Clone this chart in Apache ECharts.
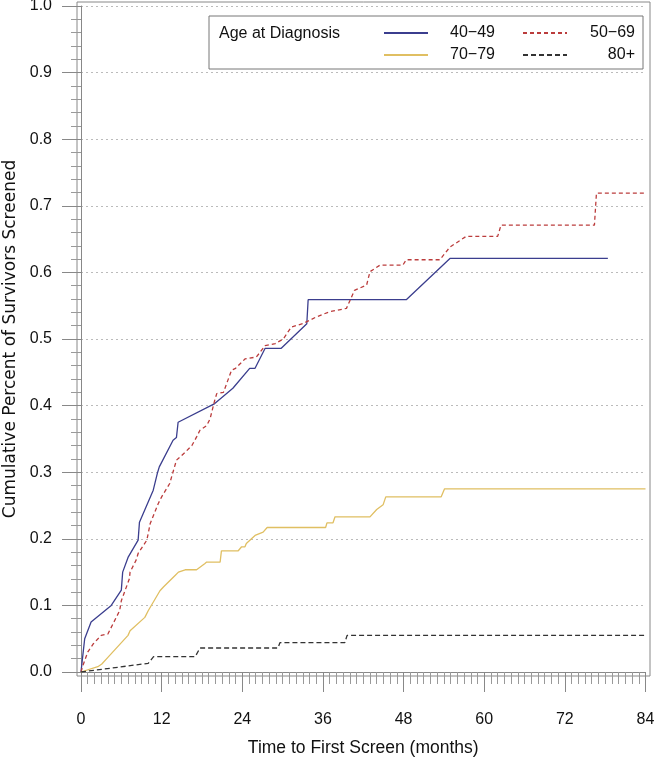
<!DOCTYPE html>
<html>
<head>
<meta charset="utf-8">
<script src="https://cdn.jsdelivr.net/npm/echarts@6/dist/echarts.min.js"></script>
<style>html,body{margin:0;padding:0;background:#fff;}#c{width:655px;height:761px;}</style>
</head>
<body>
<div id="c"></div>
<script>
const FONT = 'Liberation Sans, Arial, Helvetica, sans-serif';

const xTicks = [0, 12, 24, 36, 48, 60, 72, 84];
const yTicks = [0.0, 0.1, 0.2, 0.3, 0.4, 0.5, 0.6, 0.7, 0.8, 0.9, 1.0];
const groupNames = ['40−49', '50−69', '70−79', '80+'];

const age40_49 = [[0,0],[0.35,0.032],[0.55,0.05],[1.5,0.075],[4.5,0.1],[6.0,0.123],[6.2,0.15],[7.0,0.172],[8.5,0.198],[8.7,0.225],[10.75,0.273],[11.35,0.298],[11.65,0.308],[13.7,0.348],[14.2,0.352],[14.45,0.375],[19.9,0.403],[22.6,0.426],[25.1,0.456],[25.9,0.456],[27.4,0.486],[29.8,0.486],[33.6,0.523],[33.8,0.559],[48.4,0.559],[54.9,0.621],[78.4,0.621]];

const age50_69 = [[0,0],[0.3,0.01],[1.0,0.03],[1.8,0.042],[3.0,0.055],[4.0,0.057],[4.75,0.072],[5.75,0.092],[6.0,0.107],[7.2,0.14],[7.3,0.15],[8.2,0.168],[8.5,0.178],[9.8,0.198],[10.3,0.223],[11.5,0.253],[12.0,0.263],[13.2,0.283],[14.2,0.318],[15.5,0.33],[16.5,0.34],[17.2,0.353],[17.7,0.363],[18.7,0.37],[19.2,0.38],[19.9,0.408],[20.2,0.418],[21.2,0.42],[22.4,0.453],[23.0,0.456],[24.4,0.47],[26.1,0.473],[27.4,0.49],[28.9,0.493],[30.1,0.5],[31.3,0.518],[33.0,0.523],[35.0,0.533],[37.0,0.541],[39.5,0.546],[40.7,0.573],[42.5,0.581],[43.0,0.601],[44.5,0.611],[47.9,0.611],[48.4,0.619],[53.4,0.619],[54.9,0.638],[57.3,0.654],[62.0,0.654],[62.5,0.671],[76.4,0.671],[76.7,0.719],[84,0.719]];

const age70_79 = [[0,0],[2.5,0.008],[3.1,0.012],[4.0,0.022],[7.0,0.055],[7.3,0.062],[9.5,0.082],[10.0,0.092],[11.75,0.122],[12.3,0.128],[12.5,0.13],[14.0,0.145],[14.5,0.15],[15.5,0.1535],[17.2,0.1535],[18.4,0.1625],[18.7,0.165],[20.7,0.165],[20.9,0.182],[23.4,0.182],[23.9,0.188],[24.4,0.188],[24.6,0.193],[25.9,0.205],[27.1,0.21],[27.7,0.217],[36.4,0.217],[36.6,0.224],[37.5,0.224],[37.8,0.233],[43.0,0.233],[44.0,0.244],[44.95,0.251],[45.35,0.263],[53.6,0.263],[54.1,0.275],[84,0.275]];

const age80plus = [[0,0],[10.0,0.013],[10.8,0.023],[17.0,0.023],[17.7,0.036],[29.3,0.036],[29.6,0.044],[39.25,0.044],[39.6,0.055],[84,0.055]];

const chart = echarts.init(document.getElementById('c'), null, {renderer: 'canvas'});

function mkSeries(name, data, color, type) {
  return {
    name: name, type: 'line', data: data, symbol: 'none', showSymbol: false,
    lineStyle: {color: color, width: 1.3, type: type},
    itemStyle: {color: color},
    animation: false, silent: true
  };
}

function mkLegend(left, names, labelWidth) {
  return {
    orient: 'vertical', left: left, top: 20, padding: 5,
    itemWidth: 44, itemHeight: 14, itemGap: 6,
    selectedMode: false,
    itemStyle: {opacity: 0, borderWidth: 0},
    data: names,
    formatter: n => '{r|' + n + '}',
    textStyle: {fontFamily: FONT, fontSize: 16, color: '#111',
      rich: {r: {width: labelWidth, align: 'right', fontFamily: FONT, fontSize: 16, color: '#111'}}}
  };
}

chart.setOption({
  animation: false,
  backgroundColor: '#fff',
  grid: {left: 81, right: 9.5, top: 6, bottom: 89, containLabel: false, outerBoundsMode: 'none'},
  xAxis: {
    type: 'value', min: xTicks[0], max: xTicks[xTicks.length - 1], interval: 12,
    offset: 4,
    name: 'Time to First Screen (months)', nameLocation: 'middle', nameGap: 63,
    nameTextStyle: {fontFamily: FONT, fontSize: 17.5, color: '#111'},
    axisLine: {show: true, lineStyle: {color: '#888', width: 1}},
    axisTick: {show: true, inside: false, length: 20, lineStyle: {color: '#888'}},
    minorTick: {show: true, splitNumber: 12, length: 12, lineStyle: {color: '#999'}},
    axisLabel: {fontFamily: FONT, fontSize: 16, color: '#111', margin: 36},
    splitLine: {show: false}
  },
  yAxis: {
    type: 'value', min: yTicks[0], max: yTicks[yTicks.length - 1], interval: 0.1,
    offset: 4,
    name: 'Cumulative Percent of Survivors Screened', nameLocation: 'middle', nameGap: 46,
    nameTextStyle: {fontFamily: 'DejaVu Sans, ' + FONT, fontSize: 17, color: '#111'},
    axisLine: {show: true, lineStyle: {color: '#888', width: 1}},
    axisTick: {show: true, inside: false, length: 19, lineStyle: {color: '#888'}},
    minorTick: {show: true, splitNumber: 5, length: 10, lineStyle: {color: '#999'}},
    axisLabel: {fontFamily: FONT, fontSize: 16, color: '#111', margin: 25,
      formatter: v => v.toFixed(1)},
    splitLine: {show: true, lineStyle: {color: '#bbb', type: [2, 3], width: 1}}
  },
  legend: [
    mkLegend(378, [groupNames[0], groupNames[2]], 62),
    mkLegend(517, [groupNames[1], groupNames[3]], 63)
  ],
  graphic: [
    {type: 'rect', shape: {x: 77, y: 2, width: 573, height: 674}, style: {fill: 'none', stroke: '#888', lineWidth: 1}, silent: true, z: -1},
    {type: 'rect', shape: {x: 209, y: 16, width: 434, height: 53}, style: {fill: '#fff', stroke: '#777', lineWidth: 1}, silent: true, z: 1},
    {type: 'text', x: 219, y: 34, style: {text: 'Age at Diagnosis', font: '16px ' + FONT, fill: '#111', verticalAlign: 'middle'}, silent: true, z: 2}
  ],
  series: [
    mkSeries(groupNames[0], age40_49, '#3b3e8e', 'solid'),
    mkSeries(groupNames[1], age50_69, '#bb3c3c', [4, 3]),
    mkSeries(groupNames[2], age70_79, '#e0bf62', 'solid'),
    mkSeries(groupNames[3], age80plus, '#333333', [5, 3])
  ]
});
</script>
</body>
</html>
